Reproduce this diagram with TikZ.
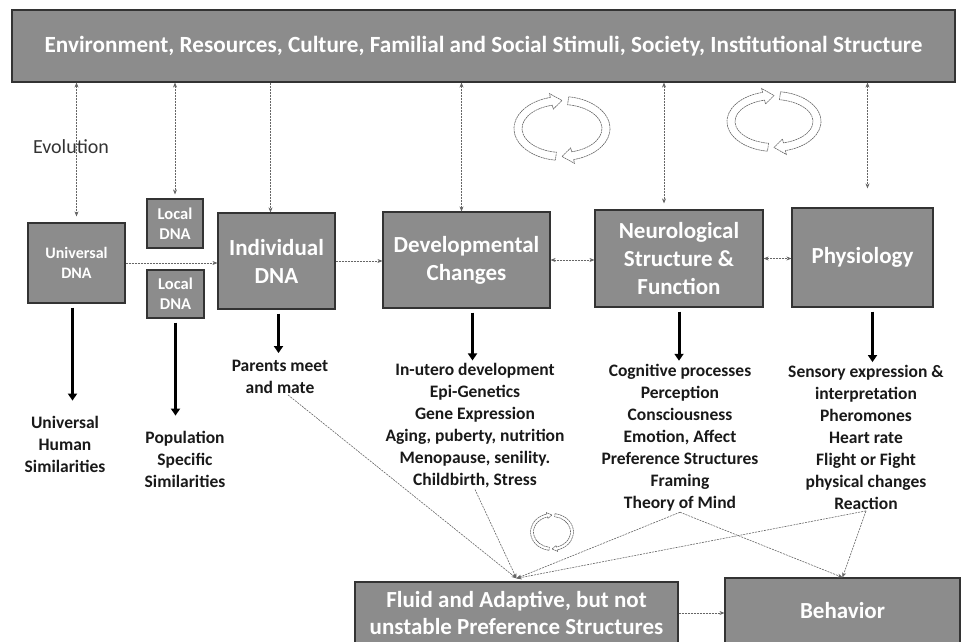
\documentclass[tikz,border=0pt]{standalone}
\usepackage{fontspec}
\setmainfont{Carlito}
\usetikzlibrary{arrows.meta}
\definecolor{boxgray}{HTML}{8C8C8C}
\newcommand{\loopicon}[5]{%
  \begin{scope}[shift={(#1,#2)}]
  \foreach \sa/\ea in {262/104,82/-76}{
    \filldraw[loopline] ({(#3+#5)*cos(\sa)},{(#4+#5)*sin(\sa)})
      arc[start angle=\sa,end angle=\ea,x radius={#3+#5},y radius={#4+#5}]
      -- ({(#3+2*#5)*cos(\ea)},{(#4+2*#5)*sin(\ea)})
      -- ({#3*cos(\ea-14)},{#4*sin(\ea-14)})
      -- ({(#3-2*#5)*cos(\ea)},{(#4-2*#5)*sin(\ea)})
      -- ({(#3-#5)*cos(\ea)},{(#4-#5)*sin(\ea)})
      arc[start angle=\ea,end angle=\sa,x radius={#3-#5},y radius={#4-#5}] -- cycle;
  }
  \end{scope}}

\begin{document}
\begin{tikzpicture}[x=1pt,y=1pt,
  box/.style={draw=black!80, line width=1.2pt, fill=boxgray, text=white, align=center, inner sep=0pt,
    font=\fontsize{23}{28}\selectfont\bfseries},
  smallbox/.style={box, font=\fontsize{16}{20}\selectfont\bfseries},
  tinybox/.style={box, font=\fontsize{16.5}{20}\selectfont\bfseries},
  listtext/.style={align=center, text=black!90, inner sep=1pt, font=\fontsize{17.5}{22}\selectfont\bfseries},
  link/.style={draw=black!60, line width=0.6pt, dash pattern=on 2pt off 1pt, >={Stealth[length=5pt,width=4pt]}},
  bigarrow/.style={line width=3pt, -{Triangle[length=7pt,width=9pt]}, shorten <=4pt},
  loopline/.style={draw=black!60, fill=white, line width=0.6pt, dash pattern=on 2pt off 0.6pt}]
\useasboundingbox (0,0) rectangle (964,642);
\node[box, font=\fontsize{23.2}{26}\selectfont\bfseries, minimum width=943, minimum height=72] (env) at (483.5,596)
  {Environment, Resources, Culture, Familial and Social Stimuli, Society, Institutional Structure};
\node[smallbox, minimum width=97, minimum height=80] (univ) at (76.5,379) {Universal\\DNA};
\node[tinybox, minimum width=56, minimum height=49] (local1) at (175,418.5) {Local\\DNA};
\node[tinybox, minimum width=57, minimum height=48] (local2) at (175.5,348) {Local\\DNA};
\node[box, minimum width=117, minimum height=96] (indiv) at (276.5,381) {Individual\\DNA};
\node[box, minimum width=167, minimum height=96] (dev) at (466.5,382) {Developmental\\Changes};
\node[box, minimum width=168, minimum height=97] (neuro) at (679,383.5) {Neurological\\Structure \&\\Function};
\node[box, minimum width=141, minimum height=99] (phys) at (862.5,384.5) {Physiology};
\node[box, font=\fontsize{23}{27}\selectfont\bfseries, minimum width=323, minimum height=62] (fluid) at (516.5,29)
  {Fluid and Adaptive, but not\\unstable Preference Structures};
\node[box, minimum width=235, minimum height=66] (behav) at (842.5,31) {Behavior};
\node[font=\fontsize{20}{22}\selectfont, text=black!80] (evol) at (71,495) {Evolution};
\node[listtext] (univlist) at (65,198) {Universal\\Human\\Similarities};
\node[listtext] (poplist) at (185,183) {Population\\Specific\\Similarities};
\node[listtext] (parents) at (280,265) {Parents meet\\and mate};
\node[listtext] (devlist) at (475,216) {In-utero development\\Epi-Genetics\\Gene Expression\\Aging, puberty, nutrition\\Menopause, senility.\\Childbirth, Stress};
\node[listtext] (neurolist) at (680,204.5) {Cognitive processes\\Perception\\Consciousness\\Emotion, Affect\\Preference Structures\\Framing\\Theory of Mind};
\node[listtext] (physlist) at (866,204.5) {Sensory expression \&\\interpretation\\Pheromones\\Heart rate\\Flight or Fight\\physical changes\\Reaction};
\coordinate (ix) at ([xshift=-6pt]indiv.north);
\coordinate (dx) at ([xshift=-5pt]dev.north);
\coordinate (nx) at ([xshift=-15pt]neuro.north);
\coordinate (px) at ([xshift=5pt,yshift=19pt]phys.north);
\coordinate (pm) at ([xshift=8pt]parents.south);
\coordinate (fl) at ([yshift=3pt]fluid.north);
\draw[link,<->] (env.south -| univ.north) -- ([yshift=6pt]univ.north);
\draw[link,<->] (env.south -| local1.north) -- ([yshift=4pt]local1.north);
\draw[link,->] (env.south -| ix) -- (ix);
\draw[link,<->] (env.south -| dx) -- (dx);
\draw[link,<->] (env.south -| nx) -- ([yshift=6pt]nx);
\draw[link,<->] (env.south -| px) -- (px);
\draw[link,->] (univ.east) -- (univ.east -| indiv.west);
\draw[link,->] (indiv.east) -- (indiv.east -| dev.west);
\draw[link,<->] (dev.east) -- (dev.east -| neuro.west);
\draw[link,<->] (neuro.east) -- (neuro.east -| phys.west);
\draw[link,->] (fluid.east) -- (fluid.east -| behav.west);
\draw[bigarrow, shorten >=14pt] ([xshift=-4pt]univ.south) -- ([xshift=-4pt]univ.south |- univlist.north);
\draw[bigarrow, shorten >=14pt] (local2.south) -- (local2.south |- poplist.north);
\draw[bigarrow, shorten >=6pt] ([xshift=2pt]indiv.south) -- ([xshift=2pt]indiv.south |- parents.north);
\draw[bigarrow, shorten >=2pt] ([xshift=6pt]dev.south) -- ([xshift=6pt]dev.south |- devlist.north);
\draw[bigarrow, shorten >=2pt] (neuro.south) -- (neuro.south |- neurolist.north);
\draw[bigarrow, shorten >=2pt] ([xshift=10pt]phys.south) -- ([xshift=10pt]phys.south |- physlist.north);
\draw[link,->] (pm) -- (fl);
\draw[link,->] (devlist.south) -- (fl);
\draw[link,->] (neurolist.south) -- (fl);
\draw[link,->] (neurolist.south) -- (behav.north);
\draw[link,->] (physlist.south) -- (fl);
\draw[link,->] (physlist.south) -- (behav.north);
\loopicon{562}{513.5}{44}{28}{4}
\loopicon{774}{520.5}{43}{26}{4}
\loopicon{552}{110}{20}{17}{1.5}
\end{tikzpicture}
\end{document}
